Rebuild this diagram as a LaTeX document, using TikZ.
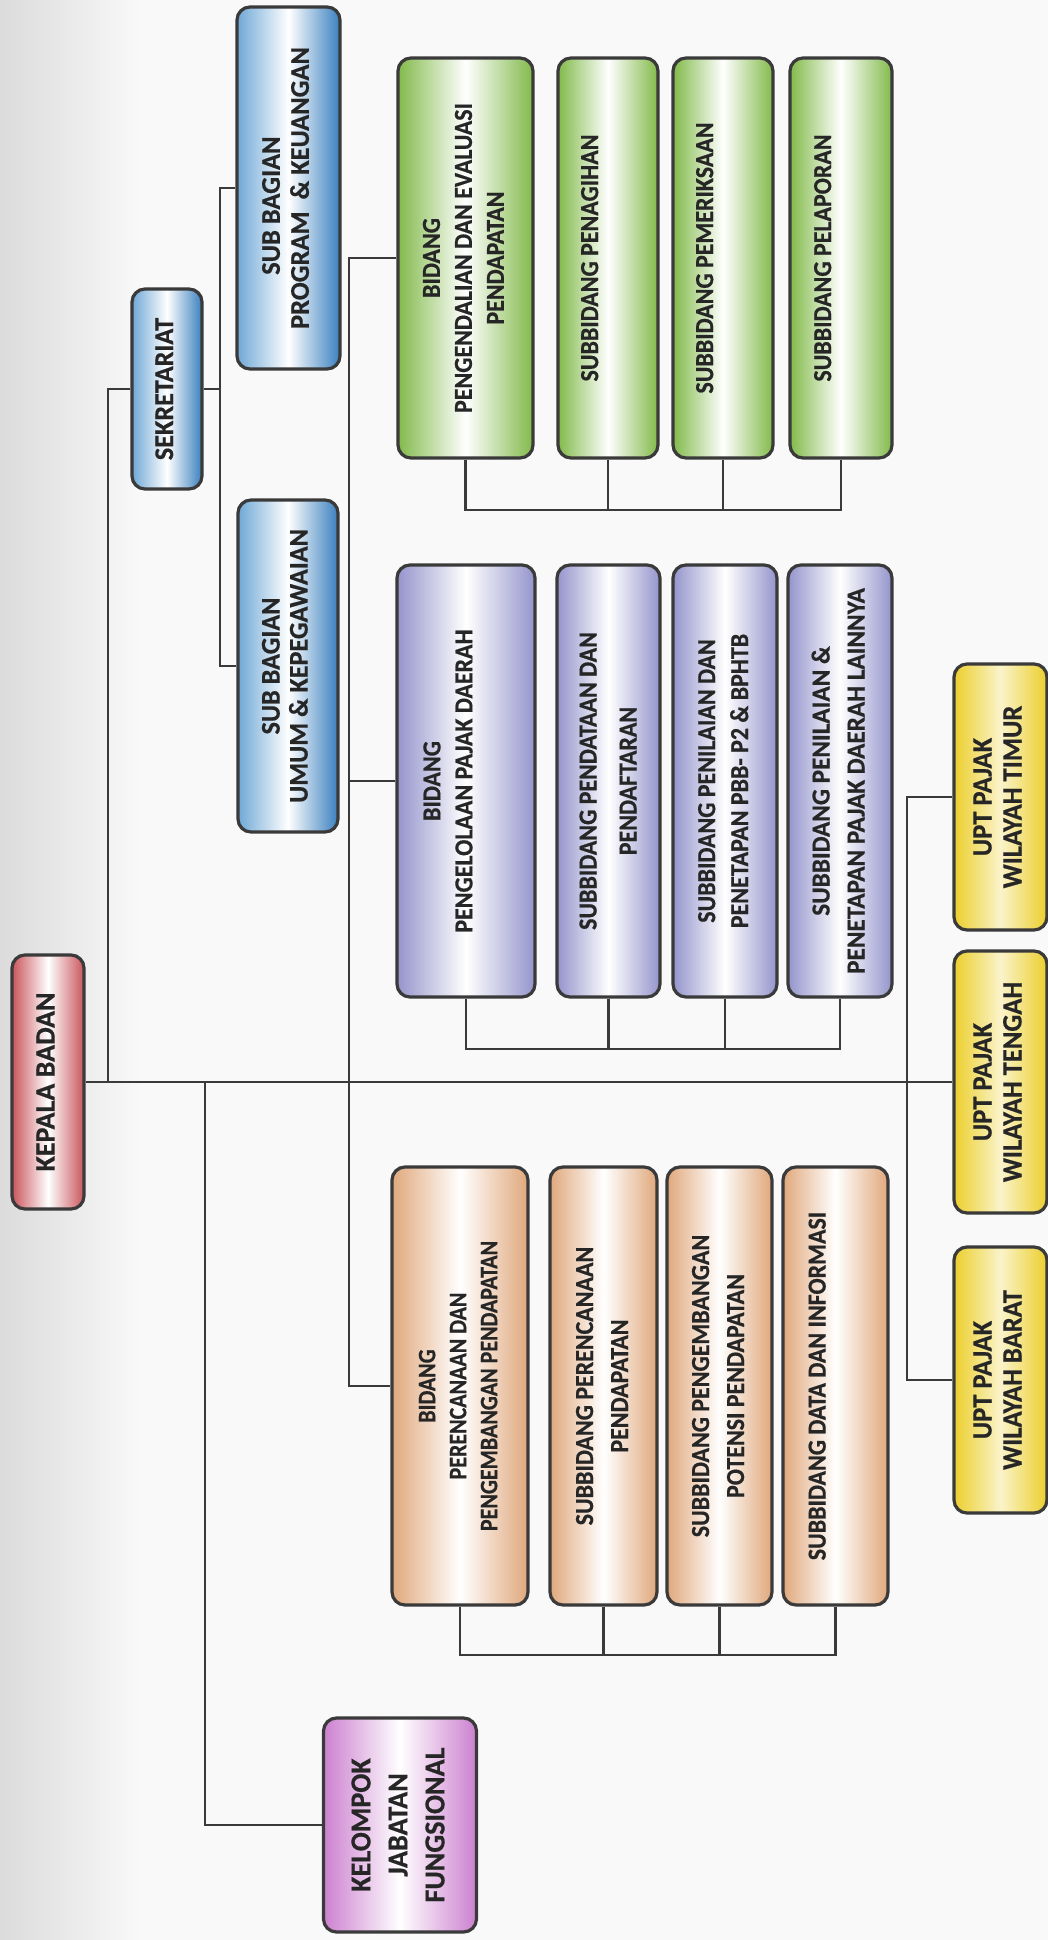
\documentclass[tikz,border=0pt]{standalone}
\usepackage{fontspec}
\setmainfont{Carlito}[BoldFeatures={FakeBold=0.6}]
\usepackage{graphicx}
\definecolor{lineC}{HTML}{3A3A3A}
\definecolor{txtC}{HTML}{262626}
\definecolor{redC}{HTML}{C9545B}
\definecolor{blueL}{HTML}{6FA8D6}
\definecolor{blueD}{HTML}{3A80BF}
\definecolor{greenC}{HTML}{82BA4A}
\definecolor{purpC}{HTML}{9494CC}
\definecolor{orngC}{HTML}{E0A87C}
\definecolor{yellC}{HTML}{ECCF2C}
\definecolor{pinkC}{HTML}{CC80CF}
\newcommand{\vt}[4]{\rotatebox{90}{\scalebox{#3}[1]{\fontsize{#1}{#2}\selectfont\bfseries\begin{tabular}{@{}c@{}}#4\end{tabular}}}}
\tikzset{
  orgbox/.style={draw=lineC, line width=3.2pt, rounded corners=13pt, inner sep=0pt, text=txtC},
  redbox/.style={orgbox, left color=redC, right color=redC, middle color=white},
  bluebox/.style={orgbox, left color=blueL, right color=blueD, middle color=white},
  greenbox/.style={orgbox, left color=greenC, right color=greenC, middle color=white},
  purpbox/.style={orgbox, left color=purpC, right color=purpC, middle color=white},
  orngbox/.style={orgbox, left color=orngC, right color=orngC, middle color=white},
  yellbox/.style={orgbox, left color=yellC, right color=yellC, middle color=yellC!25},
  pinkbox/.style={orgbox, left color=pinkC, right color=pinkC, middle color=white},
  conn/.style={draw=lineC, line width=2.8pt},
}
\begin{document}
\begin{tikzpicture}[x=1pt, y=-1pt]
\useasboundingbox (0,0) rectangle (1048,1940);
\fill[gray!5] (0,0) rectangle (1048,1940);
\shade[left color=gray!28, right color=gray!5] (0,0) rectangle (140,1940);

% head
\node[redbox, minimum width=72pt, minimum height=254pt] (kepala) at (48,1082) {\vt{28}{33}{1}{KEPALA BADAN}};

% secretariat
\node[bluebox, minimum width=70pt, minimum height=200pt] (sekr) at (167,389) {\vt{27}{30}{0.97}{SEKRETARIAT}};
\node[bluebox, minimum width=103pt, minimum height=362pt] (program) at (288.5,188) {\vt{27}{29}{0.98}{SUB BAGIAN\hspace{36pt}\mbox{}\\PROGRAM ~\& KEUANGAN}};
\node[bluebox, minimum width=100pt, minimum height=332pt] (umum) at (288,666) {\vt{27}{28}{0.97}{SUB BAGIAN\\UMUM \& KEPEGAWAIAN}};

% green column
\node[greenbox, minimum width=135pt, minimum height=400pt] (gbid) at (465.5,258) {\vt{26}{32}{0.92}{BIDANG\\PENGENDALIAN DAN EVALUASI\\PENDAPATAN}};
\node[greenbox, minimum width=100pt, minimum height=400pt] (gs1) at (608,258) {\vt{26}{33}{0.92}{SUBBIDANG PENAGIHAN\\\mbox{}}};
\node[greenbox, minimum width=100pt, minimum height=400pt] (gs2) at (723,258) {\vt{26}{33}{0.92}{SUBBIDANG PEMERIKSAAN\\\mbox{}}};
\node[greenbox, minimum width=102pt, minimum height=400pt] (gs3) at (841,258) {\vt{26}{33}{0.92}{SUBBIDANG PELAPORAN\\\mbox{}}};

% purple column
\node[purpbox, minimum width=138pt, minimum height=432pt] (pbid) at (466,781) {\vt{26}{32}{0.92}{BIDANG\\PENGELOLAAN PAJAK DAERAH\\\mbox{}}};
\node[purpbox, minimum width=103pt, minimum height=432pt] (ps1) at (608.5,781) {\vt{26}{40}{0.92}{SUBBIDANG PENDATAAN DAN\\PENDAFTARAN}};
\node[purpbox, minimum width=104pt, minimum height=432pt] (ps2) at (725,781) {\vt{26}{33}{0.92}{SUBBIDANG PENILAIAN DAN\\PENETAPAN PBB- P2 \& BPHTB}};
\node[purpbox, minimum width=104pt, minimum height=432pt] (ps3) at (840,781) {\vt{26}{35}{0.97}{SUBBIDANG PENILAIAN \&\\PENETAPAN PAJAK DAERAH LAINNYA}};

% orange column
\node[orngbox, minimum width=136pt, minimum height=438pt] (obid) at (460,1386) {\vt{25}{31}{0.88}{BIDANG\\PERENCANAAN DAN\\PENGEMBANGAN PENDAPATAN}};
\node[orngbox, minimum width=107pt, minimum height=438pt] (os1) at (603.5,1386) {\vt{26}{35}{0.92}{SUBBIDANG PERENCANAAN\\PENDAPATAN}};
\node[orngbox, minimum width=105pt, minimum height=438pt] (os2) at (719.5,1386) {\vt{26}{35}{0.92}{SUBBIDANG PENGEMBANGAN\\POTENSI PENDAPATAN}};
\node[orngbox, minimum width=105pt, minimum height=438pt] (os3) at (835.5,1386) {\vt{26}{33}{0.92}{SUBBIDANG DATA DAN INFORMASI\\\mbox{}}};

% UPT
\node[yellbox, minimum width=93pt, minimum height=266pt] (upttimur) at (1000.5,797) {\vt{28}{30}{0.95}{UPT PAJAK\\WILAYAH TIMUR}};
\node[yellbox, minimum width=93pt, minimum height=262pt] (upttengah) at (1000.5,1082) {\vt{28}{30}{0.95}{UPT PAJAK\\WILAYAH TENGAH}};
\node[yellbox, minimum width=93pt, minimum height=266pt] (uptbarat) at (1000.5,1380) {\vt{28}{30}{0.95}{UPT PAJAK\\WILAYAH BARAT}};

% functional group
\node[pinkbox, minimum width=153pt, minimum height=214pt] (kelompok) at (400,1825) {\vt{29}{37}{0.97}{KELOMPOK\\JABATAN\\FUNGSIONAL}};

% junction coordinates
\coordinate (jsek) at (108,1082);
\coordinate (jsub) at (220,389);
\coordinate (jkel) at (205,1082);
\coordinate (jbid) at (349,1082);
\coordinate (jupt) at (907,1082);
\coordinate (gb) at (0,510);
\coordinate (pb) at (0,1049);
\coordinate (ob) at (0,1655);

% connectors
\draw[conn] (kepala.east) -- (upttengah.west);
\draw[conn] (jsek) |- (sekr.west);
\draw[conn] (sekr.east) -- (jsub);
\draw[conn] (program.west) -| (jsub) |- (umum.west);
\draw[conn] (gbid.west) -| (jbid) |- (obid.west);
\draw[conn] (pbid.west) -- (pbid.west -| jbid);
\draw[conn] (jkel) |- (kelompok.west);
\draw[conn] (upttimur.west) -| (jupt) |- (uptbarat.west);

\draw[conn] (gbid.south) -- (gbid.south |- gb) -- (gs3.south |- gb) -- (gs3.south);
\draw[conn] (gs1.south) -- (gs1.south |- gb);
\draw[conn] (gs2.south) -- (gs2.south |- gb);

\draw[conn] (pbid.south) -- (pbid.south |- pb) -- (ps3.south |- pb) -- (ps3.south);
\draw[conn] (ps1.south) -- (ps1.south |- pb);
\draw[conn] (ps2.south) -- (ps2.south |- pb);

\draw[conn] (obid.south) -- (obid.south |- ob) -- (os3.south |- ob) -- (os3.south);
\draw[conn] (os1.south) -- (os1.south |- ob);
\draw[conn] (os2.south) -- (os2.south |- ob);
\end{tikzpicture}
\end{document}
